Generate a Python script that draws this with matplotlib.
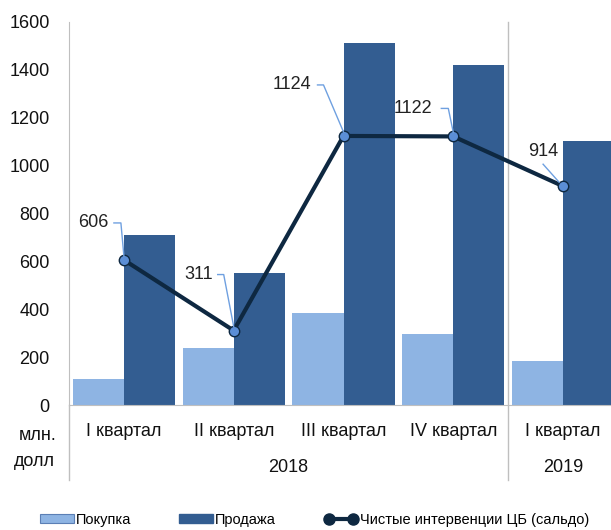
import matplotlib
matplotlib.use("Agg")
import matplotlib.pyplot as plt
from matplotlib.lines import Line2D
from matplotlib.patches import Patch
import numpy as np

plt.rcParams['font.family'] = ['Liberation Sans', 'DejaVu Sans']

quarters = ["I квартал", "II квартал", "III квартал", "IV квартал", "I квартал"]
years = ["2018", "2019"]
year_groups = [4, 1]
purchase = [108, 238, 384, 297, 184]
sale = [710, 551, 1512, 1420, 1103]
net = [606, 311, 1124, 1122, 914]
yticks = [0, 200, 400, 600, 800, 1000, 1200, 1400, 1600]

c_light = '#8EB4E3'
c_dark = '#335D91'
c_line = '#0E2841'
c_mark = '#5B8ED6'
c_lead = '#6FA0E0'

W, H = 611, 530
fig = plt.figure(figsize=(W / 100, H / 100), dpi=100)
ax_left, ax_right = 69 / W, 618 / W
ax_bottom, ax_top = 1 - 405 / H, 1 - 22 / H
ax = fig.add_axes([ax_left, ax_bottom, ax_right - ax_left, ax_top - ax_bottom])

x = np.arange(len(quarters))
bw = 0.465
ax.bar(x - bw / 2, purchase, bw, color=c_light, zorder=2)
ax.bar(x + bw / 2, sale, bw, color=c_dark, zorder=2)
ax.plot(x, net, color=c_line, lw=3, zorder=3)
ax.plot(x, net, 'o', ms=7.5, mfc=c_mark, mec=c_line, mew=1, zorder=4)

ax.set_xlim(-0.5, len(quarters) - 0.5)
ax.set_ylim(0, 1600)

# data labels with leader lines (offsets in pixels relative to the point)
# (text right-edge dx, text dy, corner dx, horizontal length)
lab_style = [(-15, 37, -3, 7), (-21, 56, -10, 6), (-32, 51, -20, 6),
             (-21, 28, -5, 7), (None, 35, -20, 0)]
inv = fig.transFigure.inverted()
for xi, v, (tdx, tdy, cdx, hl) in zip(x, net, lab_style):
    px, py = ax.transData.transform((xi, v))
    if tdx is None:
        tx, ty = inv.transform((px - 20, py + tdy))
        fig.text(tx, ty, str(v), ha='center', va='center', fontsize=13, color='#222222')
        a = inv.transform((px - 20, py + 22))
        b = inv.transform((px - 4, py + 4))
        fig.add_artist(Line2D([a[0], b[0]], [a[1], b[1]], color=c_lead, lw=1,
                              transform=fig.transFigure, zorder=5))
        continue
    tx, ty = inv.transform((px + tdx, py + tdy))
    fig.text(tx, ty, str(v), ha='right', va='center', fontsize=13, color='#222222')
    pts = [(px + cdx - hl, py + tdy), (px + cdx, py + tdy), (px, py + 4)]
    f = inv.transform(pts)
    fig.add_artist(Line2D(f[:, 0], f[:, 1], color=c_lead, lw=1,
                          transform=fig.transFigure, zorder=5))

ax.set_yticks(yticks)
ax.set_yticklabels([str(t) for t in yticks], fontsize=13, color='#111111')
ax.tick_params(axis='y', length=0, pad=14)
ax.set_xticks([])
for s in ['top', 'right']:
    ax.spines[s].set_visible(False)
ax.spines['left'].set_color('#BFBFBF')
ax.spines['bottom'].set_color('#BFBFBF')

trans = ax.get_xaxis_transform()
for xi, q in zip(x, quarters):
    ax.text(xi, -27 / 383, q, transform=trans, ha='center', va='center',
            fontsize=13, color='#111111', clip_on=False)
start = 0
for yr, n in zip(years, year_groups):
    ax.text(start + (n - 1) / 2, -62 / 383, yr, transform=trans, ha='center',
            va='center', fontsize=13, color='#111111', clip_on=False)
    start += n
start = 0
for n in year_groups[:-1]:
    start += n
    ax.plot([start - 0.5, start - 0.5], [1, -75 / 383], transform=trans,
            color='#BFBFBF', lw=1, clip_on=False)
ax.plot([-0.5, -0.5], [0, -75 / 383], transform=trans,
        color='#BFBFBF', lw=1, clip_on=False)

fig.text(38 / W, 1 - 435 / H, "млн.", ha='center', va='center', fontsize=13, color='#111111')
fig.text(34 / W, 1 - 462 / H, "долл", ha='center', va='center', fontsize=13, color='#111111')

handles = [Patch(facecolor=c_light, edgecolor='#5B7FB5', lw=0.8),
           Patch(facecolor=c_dark, edgecolor=c_dark),
           Line2D([], [], color=c_line, lw=3, marker='o', ms=8, mfc=c_line, mec=c_line)]
labels = ["Покупка", "Продажа", "Чистые интервенции ЦБ (сальдо)"]
fig.legend(handles, labels, loc='center', bbox_to_anchor=(0.515, 1 - 520 / H), ncol=3,
           frameon=False, fontsize=10.5, handlelength=2.3, handletextpad=0.15,
           columnspacing=3.3, numpoints=2, handleheight=0.6)

fig.savefig("out.png", dpi=100)
